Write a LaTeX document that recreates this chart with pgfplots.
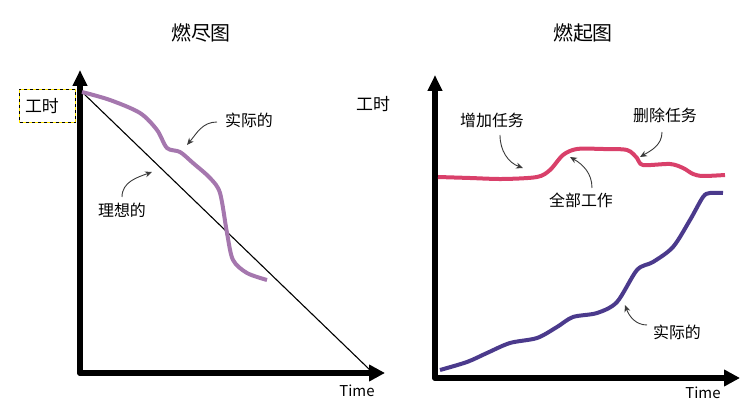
\documentclass[border=0pt]{standalone}
\usepackage{fontspec}
\setmainfont{Noto Sans CJK SC}
\usepackage{pgfplots}
\pgfplotsset{compat=1.18}
\usetikzlibrary{arrows.meta}
\definecolor{actA}{HTML}{A577AE}
\definecolor{scopeC}{HTML}{D9406A}
\definecolor{actB}{HTML}{4B3A8C}
\definecolor{annot}{HTML}{3A3A3A}
\definecolor{selY}{HTML}{FFE600}
\tikzset{ann/.style={annot, line width=0.9bp, -{Stealth[length=7bp,width=6bp]}}}
\pgfplotsset{
  burn/.style={
    scale only axis, width=305bp, height=303bp,
    xmin=0, xmax=305, ymin=0, ymax=303,
    axis lines=left, xtick=\empty, ytick=\empty,
    clip=false,
    axis line style={line width=5.5bp, black, line cap=round},
    x axis line style={-{Triangle[length=16bp,width=16bp]}},
    y axis line style={-{Triangle[length=16bp,width=14bp]}},
  },
}
\begin{document}
\begin{tikzpicture}
\useasboundingbox (0,0) rectangle (741bp,408bp);
% ---------------- left: burndown ----------------
\begin{axis}[burn, at={(80bp,35bp)}, anchor=origin]
\addplot[black, line width=1.1bp] coordinates {(2,281) (290,3)};
\addplot[actA, line width=4bp, smooth, tension=0.5] coordinates {
 (2,281) (30,273) (60,260) (77,243) (87,225) (100,221) (113,210)
 (130,195) (140,180) (147,140) (153,113) (167,100) (187,93)};
\node[font=\fontsize{20}{22}\selectfont] at (axis cs:121,340) {燃尽图};
\draw[black, line width=1bp] (axis cs:-60,283) rectangle (axis cs:-4,250);
\draw[selY, line width=1bp, dash pattern=on 3bp off 3bp] (axis cs:-60,283) rectangle (axis cs:-4,250);
\node[font=\fontsize{17}{19}\selectfont] at (axis cs:-38,267) {工时};
\node[font=\fontsize{16}{18}\selectfont] at (axis cs:169,253) {实际的};
\draw[ann] (axis cs:137,251) to[out=180,in=50] (axis cs:107,228);
\node[font=\fontsize{16}{18}\selectfont] at (axis cs:42,163) {理想的};
\draw[ann] (axis cs:42,176) to[out=90,in=200] (axis cs:72,201);
\node[font=\fontsize{15}{17}\selectfont] at (axis cs:277,-18) {Time};
\end{axis}
% ---------------- right: burnup ----------------
\begin{axis}[burn, at={(435bp,30bp)}, anchor=origin]
\addplot[scopeC, line width=4bp, smooth, tension=0.5] coordinates {
 (3,201) (35,200) (68,199) (102,201) (115,208) (128,223) (142,229)
 (168,229) (192,228) (202,220) (208,213) (235,214) (248,210)
 (258,204) (268,202) (290,203)};
\addplot[actB, line width=4bp, smooth, tension=0.5] coordinates {
 (5,8) (32,16) (52,25) (75,35) (102,40) (122,51) (138,61) (162,65)
 (182,76) (202,108) (218,116) (238,131) (255,158) (268,181)
 (275,185) (288,185)};
\node[font=\fontsize{20}{22}\selectfont] at (axis cs:148,345) {燃起图};
\node[font=\fontsize{17}{19}\selectfont] at (axis cs:-62,274) {工时};
\node[font=\fontsize{16}{18}\selectfont] at (axis cs:57,258) {增加任务};
\draw[ann] (axis cs:65,243) to[out=-90,in=160] (axis cs:88,210);
\node[font=\fontsize{16}{18}\selectfont] at (axis cs:230,263) {删除任务};
\draw[ann] (axis cs:227,246) to[out=-90,in=30] (axis cs:205,221);
\node[font=\fontsize{16}{18}\selectfont] at (axis cs:146,178) {全部工作};
\draw[ann] (axis cs:157,190) to[out=90,in=-30] (axis cs:135,221);
\node[font=\fontsize{16}{18}\selectfont] at (axis cs:242,46) {实际的};
\draw[ann] (axis cs:212,53) to[out=180,in=-70] (axis cs:190,73);
\node[font=\fontsize{15}{17}\selectfont] at (axis cs:268,-15) {Time};
\end{axis}
\end{tikzpicture}
\end{document}
